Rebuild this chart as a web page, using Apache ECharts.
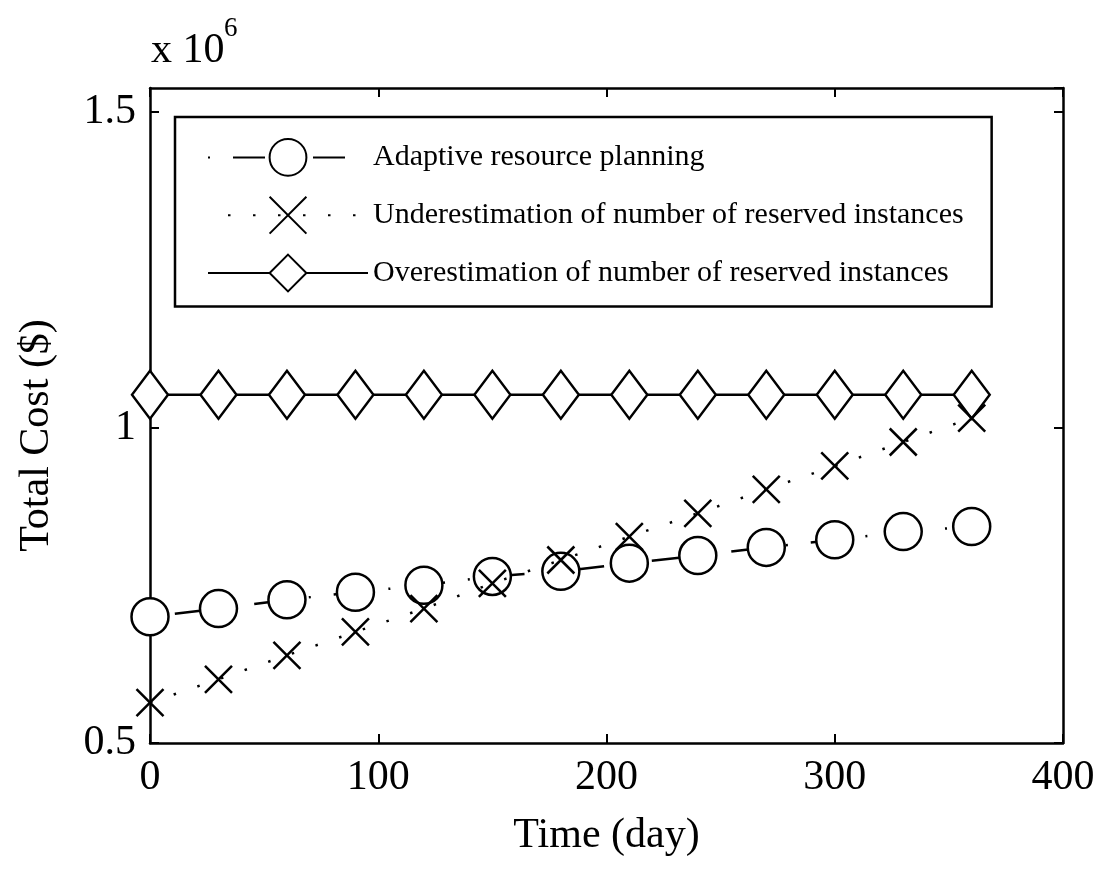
<!DOCTYPE html>
<html>
<head>
<meta charset="utf-8">
<script src="https://cdn.jsdelivr.net/npm/echarts@6/dist/echarts.min.js"></script>
<style>
html,body{margin:0;padding:0;background:#fff;}
#chart{width:1105px;height:869px;}
</style>
</head>
<body>
<div id="chart"></div>
<script>
// Data (cost in millions of $, axis shows "x 10^6")
var days = [0, 30, 60, 90, 120, 150, 180, 210, 240, 270, 300, 330, 360];
var adaptive = [0.700, 0.713, 0.727, 0.739, 0.750, 0.764, 0.772, 0.785, 0.797, 0.810, 0.822, 0.835, 0.843];
var underEst = [0.564, 0.601, 0.639, 0.676, 0.713, 0.753, 0.790, 0.827, 0.864, 0.902, 0.939, 0.977, 1.015];
var overEst  = [1.052, 1.052, 1.052, 1.052, 1.052, 1.052, 1.052, 1.052, 1.052, 1.052, 1.052, 1.052, 1.052];
var seriesNames = ['Adaptive resource planning', 'Underestimation of number of reserved instances', 'Overestimation of number of reserved instances'];
var xTicks = [0, 100, 200, 300, 400];
var yTicks = [0.5, 1, 1.5];

function pairs(vals) { return days.map(function (d, i) { return [d, vals[i]]; }); }

var FONT = "'Liberation Serif', 'Times New Roman', serif";
var chart = echarts.init(document.getElementById('chart'), null, {renderer: 'canvas'});
function axisLine() { return {show: true, onZero: false, lineStyle: {color: '#000', width: 2.5}}; }
function axisTick() { return {show: true, inside: true, length: 9, lineStyle: {color: '#000', width: 2}}; }

chart.setOption({
  animation: false,
  backgroundColor: '#fff',
  textStyle: {fontFamily: FONT, color: '#000'},
  grid: {left: 150, right: 42, top: 88, bottom: 126},
  graphic: [
    {type: 'text', left: 151, top: 30, silent: true,
     style: {text: 'x 10', fontSize: 42, fontFamily: FONT, fill: '#000'}},
    {type: 'text', left: 224, top: 15, silent: true,
     style: {text: '6', fontSize: 27, fontFamily: FONT, fill: '#000'}}
  ],
  legend: {
    orient: 'vertical', left: 175, top: 117,
    padding: [21, 28, 14, 32],
    itemWidth: 160, itemHeight: 46, itemGap: 19,
    borderColor: '#000', borderWidth: 2.5, backgroundColor: '#fff',
    textStyle: {fontFamily: FONT, fontSize: 30, color: '#000'},
    data: seriesNames, selectedMode: false
  },
  xAxis: [{
    type: 'value', min: xTicks[0], max: xTicks[xTicks.length - 1], interval: 100,
    name: 'Time (day)', nameLocation: 'middle', nameGap: 72,
    nameTextStyle: {fontFamily: FONT, fontSize: 42, color: '#000'},
    axisLine: axisLine(), axisTick: axisTick(), splitLine: {show: false},
    axisLabel: {fontFamily: FONT, fontSize: 42, color: '#000', margin: 14}
  }, {
    type: 'value', position: 'top', min: xTicks[0], max: xTicks[xTicks.length - 1], interval: 100,
    axisLine: axisLine(), axisTick: axisTick(), splitLine: {show: false}, axisLabel: {show: false}
  }],
  yAxis: [{
    type: 'value', min: yTicks[0], max: 1.538, interval: 0.5,
    name: 'Total Cost ($)', nameLocation: 'middle', nameGap: 92,
    nameTextStyle: {fontFamily: FONT, fontSize: 42, color: '#000', padding: [0, 40, 0, 0]},
    axisLine: axisLine(), axisTick: axisTick(), splitLine: {show: false},
    axisLabel: {fontFamily: FONT, fontSize: 42, color: '#000', margin: 14, showMaxLabel: false}
  }, {
    type: 'value', position: 'right', min: yTicks[0], max: 1.538, interval: 0.5,
    axisLine: axisLine(), axisTick: axisTick(), splitLine: {show: false}, axisLabel: {show: false}
  }],
  series: [{
    name: seriesNames[2], type: 'line', data: pairs(overEst),
    symbol: 'diamond', symbolSize: [36, 48],
    itemStyle: {color: '#fff', borderColor: '#000', borderWidth: 2.5},
    lineStyle: {color: '#000', width: 2.5, type: 'solid'},
    emphasis: {disabled: true}, silent: true, z: 2
  }, {
    name: seriesNames[0], type: 'line', data: pairs(adaptive),
    symbol: 'circle', symbolSize: 37,
    itemStyle: {color: '#fff', borderColor: '#000', borderWidth: 2.5},
    lineStyle: {color: '#000', width: 2.5, type: [32, 23, 2, 23], dashOffset: 55},
    emphasis: {disabled: true}, silent: true, z: 3
  }, {
    name: seriesNames[1], type: 'line', data: pairs(underEst),
    symbol: 'path://M0,0L20,20M20,0L0,20', symbolSize: 27,
    itemStyle: {color: 'rgba(0,0,0,0)', borderColor: '#000', borderWidth: 2.5},
    lineStyle: {color: '#000', width: 2.5, type: [2.5, 22.5]},
    emphasis: {disabled: true}, silent: true, z: 4
  }]
});
</script>
</body>
</html>
